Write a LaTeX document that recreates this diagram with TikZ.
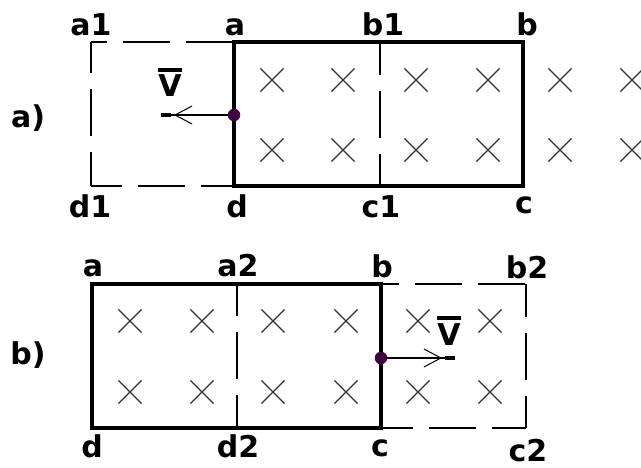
\documentclass[tikz,border=0pt]{standalone}
\usepackage{fontspec}
\setmainfont{DejaVu Sans}
\usetikzlibrary{arrows.meta,shapes.misc}
\definecolor{dotcol}{RGB}{64,0,64}
\definecolor{crosscol}{RGB}{50,50,50}
\tikzset{
  lbl/.style={font=\fontsize{30}{32}\selectfont\bfseries, inner sep=0pt, anchor=base},
  solidframe/.style={line width=3.2pt, line cap=rect, line join=miter},
  dashframe/.style={line width=2pt, dash pattern=on 47pt off 16pt},
  fieldx/.style={cross out, draw=crosscol, line width=1.2pt, minimum size=22pt, inner sep=0pt},
  movedot/.style={circle, fill=dotcol, minimum size=12.5pt, inner sep=0pt},
  vecshaft/.style={line width=1.2pt, -{Rectangle[length=10pt,width=3.5pt]}},
  vecbarb/.style={line width=1.2pt, shorten >=13pt, -{Straight Barb[length=17pt,width=18pt,line width=1pt]}},
  vlabel/.style={font=\fontsize{30}{32}\selectfont\bfseries, inner sep=0pt, anchor=base}
}
\newcommand{\barV}{\vbox{\hrule height 3.5pt\kern 3.5pt\hbox{V}}}
\begin{document}
\begin{tikzpicture}[x=1pt,y=-1pt]
\useasboundingbox (0,0) rectangle (641,468);
\fill[white] (0,0) rectangle (641,468);
% ---------------- part a ----------------
\coordinate (A) at (234,42);
\coordinate (B) at (523,42);
\coordinate (C) at (523,186);
\coordinate (D) at (234,186);
\coordinate (A1) at (91,42);
\coordinate (D1) at (91,186);
\coordinate (B1) at (380,42);
\coordinate (C1) at (380,186);
% crosses
\foreach \x in {272,343,416,488,560,632}
  \foreach \y in {80,150}
    \node[fieldx] (xa-\x-\y) at (\x,\y) {};
% dashed
\draw[dashframe, dash phase=31pt] (A1) -- (A);
\draw[dashframe, dash phase=16pt] (A1) -- (D1);
\draw[dashframe, dash phase=16pt] (D1) -- (D);
\draw[dashframe, dash phase=14pt] (B1) -- (C1);
% solid frame
\draw[solidframe] (A) -- (B) -- (C) -- (D) -- cycle;
% moving side
\node[movedot] (dotA) at (234,115) {};
\coordinate (tipA) at (161,115);
\draw[vecshaft] (dotA) -- (tipA);
\draw[vecbarb] (dotA) -- (tipA);
\node[vlabel] (vA) at (170,97) {\barV};
% labels
\node[lbl] (la) at (28,128) {a)};
\node[lbl] (lA1) at (91,36) {a1};
\node[lbl] (lA) at (235,36) {a};
\node[lbl] (lB1) at (383,36) {b1};
\node[lbl] (lB) at (527,36) {b};
\node[lbl] (lD1) at (90,218) {d1};
\node[lbl] (lD) at (237,218) {d};
\node[lbl] (lC1) at (381,218) {c1};
\node[lbl] (lC) at (524,214) {c};
% ---------------- part b ----------------
\coordinate (a) at (92,284);
\coordinate (b) at (381,284);
\coordinate (c) at (381,428);
\coordinate (d) at (92,428);
\coordinate (a2) at (237,284);
\coordinate (d2) at (237,428);
\coordinate (b2) at (526,284);
\coordinate (c2) at (526,428);
\foreach \x in {130,202,273,346,418,490}
  \foreach \y in {321,392}
    \node[fieldx] (xb-\x-\y) at (\x,\y) {};
\draw[dashframe, dash phase=15pt] (a2) -- (d2);
\draw[dashframe, dash phase=29pt] (b) -- (b2);
\draw[dashframe, dash phase=14pt] (b2) -- (c2);
\draw[dashframe, dash phase=15pt] (c) -- (c2);
\draw[solidframe] (a) -- (b) -- (c) -- (d) -- cycle;
\node[movedot] (dotB) at (381,358) {};
\coordinate (tipB) at (455,358);
\draw[vecshaft] (dotB) -- (tipB);
\draw[vecbarb] (dotB) -- (tipB);
\node[vlabel] (vB) at (449,345) {\barV};
\node[lbl] (lb) at (28,364) {b)};
\node[lbl] (la0) at (93,277) {a};
\node[lbl] (la2) at (238,277) {a2};
\node[lbl] (lb0) at (382,278) {b};
\node[lbl] (lb2) at (527,279) {b2};
\node[lbl] (ld0) at (92,457) {d};
\node[lbl] (ld2) at (238,457) {d2};
\node[lbl] (lc0) at (380,456) {c};
\node[lbl] (lc2) at (528,461) {c2};
\end{tikzpicture}
\end{document}
